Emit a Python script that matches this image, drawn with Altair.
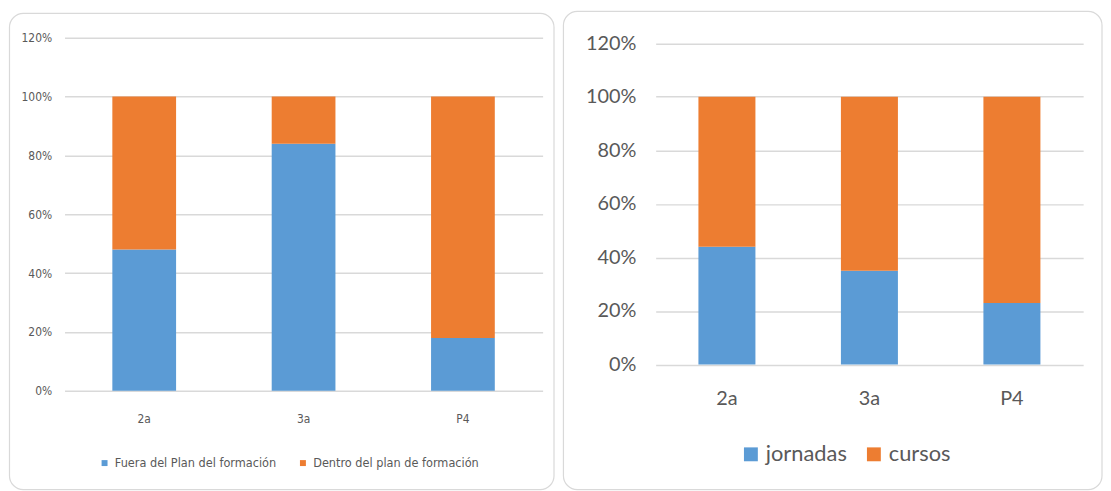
import altair as alt
import pandas as pd

cats = ["2a", "3a", "P4"]

left_series = ["Fuera del Plan del formación", "Dentro del plan de formación"]
left_blue = [48, 84, 18]
left_orange = [52, 16, 82]

right_series = ["jornadas", "cursos"]
right_blue = [44, 35, 23]
right_orange = [56, 65, 77]

tick_vals = [0, 20, 40, 60, 80, 100, 120]

BLUE = "#5B9BD5"
ORANGE = "#ED7D31"
TXT = "#595959"
GRID = "#D9D9D9"


def make_df(series, blue, orange):
    rows = []
    for i, c in enumerate(cats):
        rows.append({"cat": c, "series": series[0], "value": blue[i], "ord": 0})
        rows.append({"cat": c, "series": series[1], "value": orange[i], "ord": 1})
    return pd.DataFrame(rows)


def panel(series, blue, orange, w, h, yrange, font, fs, lfs, lab_pad_y, lab_pad_x,
          leg_x, leg_y, sym, col_pad, box):
    df = make_df(series, blue, orange)
    bars = alt.Chart(df).mark_bar().encode(
        x=alt.X("cat:N", sort=cats, title=None,
                scale=alt.Scale(paddingInner=0.6, paddingOuter=0.3),
                axis=alt.Axis(labelAngle=0, domain=False, ticks=False, grid=False,
                              labelFont=font, labelFontSize=fs, labelColor=TXT,
                              labelPadding=lab_pad_x)),
        y=alt.Y("value:Q", stack="zero", title=None,
                scale=alt.Scale(domain=[0, 120], nice=False, range=yrange),
                axis=alt.Axis(values=tick_vals, labelExpr="datum.value + '%'",
                              domain=False, ticks=False, grid=True,
                              gridColor=GRID, gridWidth=1.5,
                              labelFont=font, labelFontSize=fs, labelColor=TXT,
                              labelPadding=lab_pad_y)),
        color=alt.Color("series:N",
                        scale=alt.Scale(domain=series, range=[BLUE, ORANGE]),
                        legend=alt.Legend(orient="none", legendX=leg_x, legendY=leg_y,
                                          direction="horizontal", title=None,
                                          symbolType="square", symbolSize=sym * sym,
                                          symbolStrokeWidth=0, labelOffset=4,
                                          columnPadding=col_pad,
                                          labelFont=font, labelFontSize=lfs,
                                          labelColor=TXT, labelLimit=400)),
        order=alt.Order("ord:Q", sort="ascending"),
    )
    border = alt.Chart(pd.DataFrame({"a": [0]})).mark_rect(
        fill="white", fillOpacity=0, stroke=GRID, strokeWidth=1.2, cornerRadius=14
    ).encode(
        x=alt.value(box[0]), x2=alt.value(box[1]),
        y=alt.value(box[2]), y2=alt.value(box[3]),
    )
    return alt.layer(border, bars).properties(width=w, height=h)


left = panel(left_series, left_blue, left_orange, 482, 356, [356, 0],
             "DejaVu Sans Condensed", 12, 12.7, 13, 23,
             34, 422, 6, 20, (-55.5, 493.5, -24.5, 455.5))
right = panel(right_series, right_blue, right_orange, 431, 330, [329.5, 5.5],
              "Lato", 20, 22, 20, 24,
              85, 409, 14, 16, (-93, 450, -26.5, 455.5))

chart = alt.hconcat(left, right, spacing=7).resolve_scale(
    color="independent"
).resolve_legend(color="independent").properties(
    padding=0, background="white"
).configure_view(stroke=None)

chart.save("out.html", embed_options={"renderer": "svg", "actions": False})
